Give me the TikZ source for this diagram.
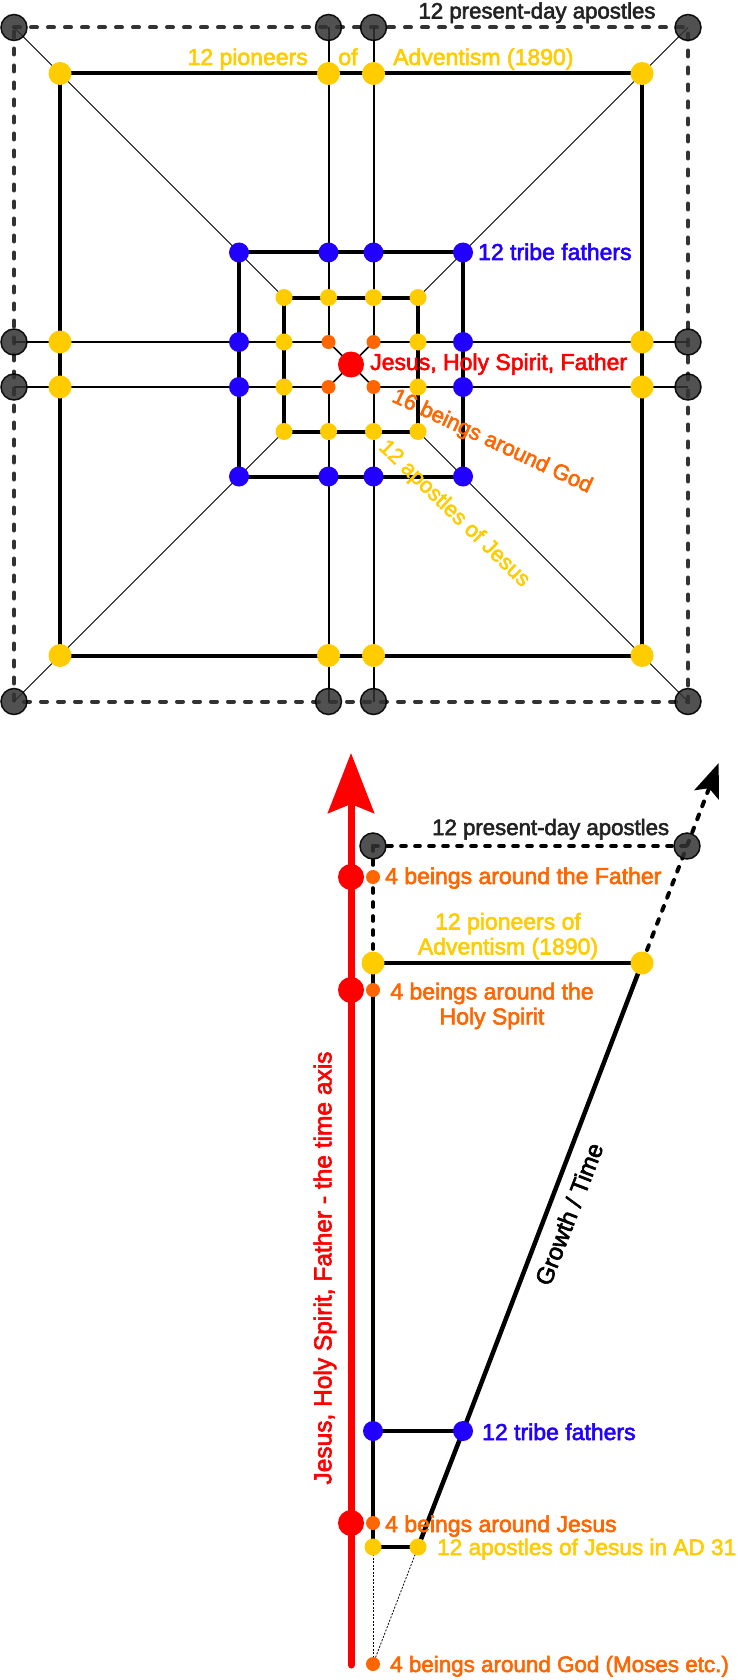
\documentclass[tikz,border=0pt]{standalone}
\usepackage{fontspec}
\setmainfont{Liberation Sans}[FakeBold=2.5]
\usetikzlibrary{arrows.meta}
\definecolor{cyel}{HTML}{FFCC00}
\definecolor{cblu}{HTML}{2200FF}
\definecolor{corg}{HTML}{FF6600}
\definecolor{cred}{HTML}{FF0000}
\definecolor{cdark}{HTML}{333333}
\definecolor{ctxt}{HTML}{222222}
\pgfdeclarelayer{bg}
\pgfdeclarelayer{lines}
\pgfsetlayers{bg,lines,main}
\begin{document}
\begin{tikzpicture}[x=1pt,y=-1pt,
  darkdot/.style={circle,inner sep=0pt,minimum size=26pt,fill=cdark,fill opacity=0.85,draw=black,draw opacity=0.9,line width=1.5pt},
  ydot/.style={circle,inner sep=0pt,minimum size=23pt,fill=cyel},
  bdot/.style={circle,inner sep=0pt,minimum size=20pt,fill=cblu},
  sdot/.style={circle,inner sep=0pt,minimum size=17pt,fill=cyel},
  odot/.style={circle,inner sep=0pt,minimum size=14pt,fill=corg},
  rdot/.style={circle,inner sep=0pt,minimum size=26pt,fill=cred},
  dashline/.style={line width=4pt,draw=cdark,dash pattern=on 6pt off 11pt,line cap=round},
  bdash/.style={line width=3.6pt,draw=black,dash pattern=on 5pt off 9pt,line cap=round},
  thinline/.style={line width=2pt,draw=black},
  thickline/.style={line width=4pt,draw=black},
  diag/.style={line width=1pt,draw=black},
  fineline/.style={line width=0.8pt,draw=black,dash pattern=on 2pt off 1.5pt},
  lbl/.style={inner sep=0pt,font=\fontsize{23}{25}\selectfont},
]
\useasboundingbox (0,0) rectangle (737,1680);
\begin{pgfonlayer}{bg}
\fill[white] (0,0) rectangle (737,1680);
\end{pgfonlayer}

% ---------- top diagram: nodes ----------
\foreach \n/\x/\y in {dTL/14/27.5, dT1/328.5/27.5, dT2/373.5/27.5, dTR/688/27.5,
  dL1/14/342, dL2/14/387, dR1/688/342, dR2/688/387,
  dBL/14/701.5, dB1/328.5/701.5, dB2/373.5/701.5, dBR/688/701.5}
  \node[darkdot] (\n) at (\x,\y) {};
\foreach \n/\x/\y in {oTL/60/73.5, oT1/328.5/73.5, oT2/373.5/73.5, oTR/642/73.5,
  oL1/60/342, oL2/60/387, oR1/642/342, oR2/642/387,
  oBL/60/655.5, oB1/328.5/655.5, oB2/373.5/655.5, oBR/642/655.5}
  \node[ydot] (\n) at (\x,\y) {};
\foreach \n/\x/\y in {bTL/239/252.5, bT1/328.5/252.5, bT2/373.5/252.5, bTR/463/252.5,
  bL1/239/342, bL2/239/387, bR1/463/342, bR2/463/387,
  bBL/239/476.5, bB1/328.5/476.5, bB2/373.5/476.5, bBR/463/476.5}
  \node[bdot] (\n) at (\x,\y) {};
\foreach \n/\x/\y in {iTL/284/297.5, iT1/328.5/297.5, iT2/373.5/297.5, iTR/418/297.5,
  iL1/284/342, iL2/284/387, iR1/418/342, iR2/418/387,
  iBL/284/431.5, iB1/328.5/431.5, iB2/373.5/431.5, iBR/418/431.5}
  \node[sdot] (\n) at (\x,\y) {};
\foreach \n/\x/\y in {q1/328.5/342, q2/373.5/342, q3/328.5/387, q4/373.5/387}
  \node[odot] (\n) at (\x,\y) {};
\node[rdot] (god) at (351,364.5) {};

% ---------- top diagram: connectors ----------
\begin{pgfonlayer}{lines}
\draw[dashline] (dTL.center) -- (dT1.center) -- (dT2.center) -- (dTR.center) -- (dR1.center) -- (dR2.center)
  -- (dBR.center) -- (dB2.center) -- (dB1.center) -- (dBL.center) -- (dL2.center) -- (dL1.center) -- cycle;
\draw[thinline] (dT1.center) -- (q1.center);
\draw[thinline] (dT2.center) -- (q2.center);
\draw[thinline] (q3.center) -- (dB1.center);
\draw[thinline] (q4.center) -- (dB2.center);
\draw[thinline] (dL1.center) -- (q1.center);
\draw[thinline] (dL2.center) -- (q3.center);
\draw[thinline] (q2.center) -- (dR1.center);
\draw[thinline] (q4.center) -- (dR2.center);
\draw[thickline] (oTL.center) rectangle (oBR.center);
\draw[thickline] (bTL.center) rectangle (bBR.center);
\draw[thickline] (iTL.center) rectangle (iBR.center);
\draw[diag] (dTL.center) -- (iTL.center);
\draw[diag] (dTR.center) -- (iTR.center);
\draw[diag] (dBL.center) -- (iBL.center);
\draw[diag] (dBR.center) -- (iBR.center);
\draw[line width=1.5pt] (q1.center) -- (q4.center);
\draw[line width=1.5pt] (q2.center) -- (q3.center);
\end{pgfonlayer}

% ---------- top diagram: labels ----------
\node[lbl,text=ctxt,anchor=base,font=\fontsize{22.2}{25}\selectfont] (tPres) at (537,18.5) {12 present-day apostles};
\node[lbl,text=cyel,anchor=base east] (tPion1) at (308,65) {12 pioneers};
\node[lbl,text=cyel,anchor=base] (tPion2) at (348,65) {of};
\node[lbl,text=cyel,anchor=base west] (tPion3) at (393,65) {Adventism (1890)};
\node[lbl,text=cblu,anchor=base west] (tTribe) at (478,260) {12 tribe fathers};
\node[lbl,text=cred,anchor=base west] (tGod) at (370,370) {Jesus, Holy Spirit, Father};
\node[lbl,text=corg,rotate=-25,font=\fontsize{22}{25}\selectfont] (t16) at (492,442) {16 beings around God};
\node[lbl,text=cyel,rotate=-44,font=\fontsize{22}{25}\selectfont] (tAp) at (454,514) {12 apostles of Jesus};

% ---------- bottom diagram: nodes ----------
\coordinate (axB) at (351,1665);
\coordinate (axT) at (351,753);
\coordinate (tip) at (718.7,763);
\node[darkdot] (pD1) at (373,846) {};
\node[darkdot] (pD2) at (687,846) {};
\node[ydot] (pO1) at (373,963) {};
\node[ydot] (pO2) at (642,963) {};
\node[bdot] (pB1) at (373,1431) {};
\node[bdot] (pB2) at (463,1431) {};
\node[sdot] (pI1) at (373,1547) {};
\node[sdot] (pI2) at (418,1547) {};

\begin{pgfonlayer}{lines}
\draw[line width=7pt,draw=cred,line cap=round,-{Stealth[length=60pt,width=46pt,inset=9pt]}] (axB) -- (axT);
\draw[bdash] (pD1.center) -- (pO1.center);
\draw[bdash] (pD1.center) -- (pD2.center);
\draw[thickline] (pO1.center) -- (pB1.center) -- (pI1.center);
\draw[thickline] (pO1.center) -- (pO2.center);
\draw[thickline] (pB1.center) -- (pB2.center);
\draw[thickline] (pI1.center) -- (pI2.center);
\draw[line width=4.5pt] (pI2.center) -- (pB2.center) -- (pO2.center);
\draw[bdash,line width=4pt,-{Stealth[length=34pt,width=26pt,inset=7pt]}] (pO2.center) -- (pD2.center) -- (tip);
\end{pgfonlayer}

\node[rdot] (r1) at (351,877) {};
\node[rdot] (r2) at (351,990) {};
\node[rdot] (r3) at (351,1523) {};
\node[odot] (pQ1) at (373,877) {};
\node[odot] (pQ2) at (373,990) {};
\node[odot] (pQ3) at (373,1523) {};
\node[odot] (pQ4) at (373,1664) {};

\begin{pgfonlayer}{lines}
\draw[fineline] (pI1.center) -- (pQ4.center);
\draw[fineline] (pQ4.center) -- (pI2.center);
\end{pgfonlayer}

% ---------- bottom diagram: labels ----------
\node[lbl,text=ctxt,anchor=base west,font=\fontsize{22.2}{25}\selectfont] (bPres) at (432,835) {12 present-day apostles};
\node[lbl,text=corg,anchor=base west] (bFather) at (385,884) {4 beings around the Father};
\node[lbl,text=cyel,align=center] (bPion) at (508,936) {12 pioneers of\\Adventism (1890)};
\node[lbl,text=corg,align=center] (bSpirit) at (492,1006) {4 beings around the\\Holy Spirit};
\node[lbl,text=black,rotate=69,font=\fontsize{24}{26}\selectfont] (bGrowth) at (569,1214) {Growth / Time};
\node[lbl,text=cred,rotate=90,font=\fontsize{24.5}{27}\selectfont] (bAxis) at (325,1268) {Jesus, Holy Spirit, Father - the time axis};
\node[lbl,text=cblu,anchor=base west] (bTribe) at (482,1440) {12 tribe fathers};
\node[lbl,text=corg,anchor=base west] (bJesus) at (385,1532) {4 beings around Jesus};
\node[lbl,text=cyel,anchor=base west,font=\fontsize{22.6}{25}\selectfont] (bAp) at (437,1555) {12 apostles of Jesus in AD 31};
\node[lbl,text=corg,anchor=base west,font=\fontsize{22.4}{25}\selectfont] (bMoses) at (390,1672) {4 beings around God (Moses etc.)};
\end{tikzpicture}
\end{document}
